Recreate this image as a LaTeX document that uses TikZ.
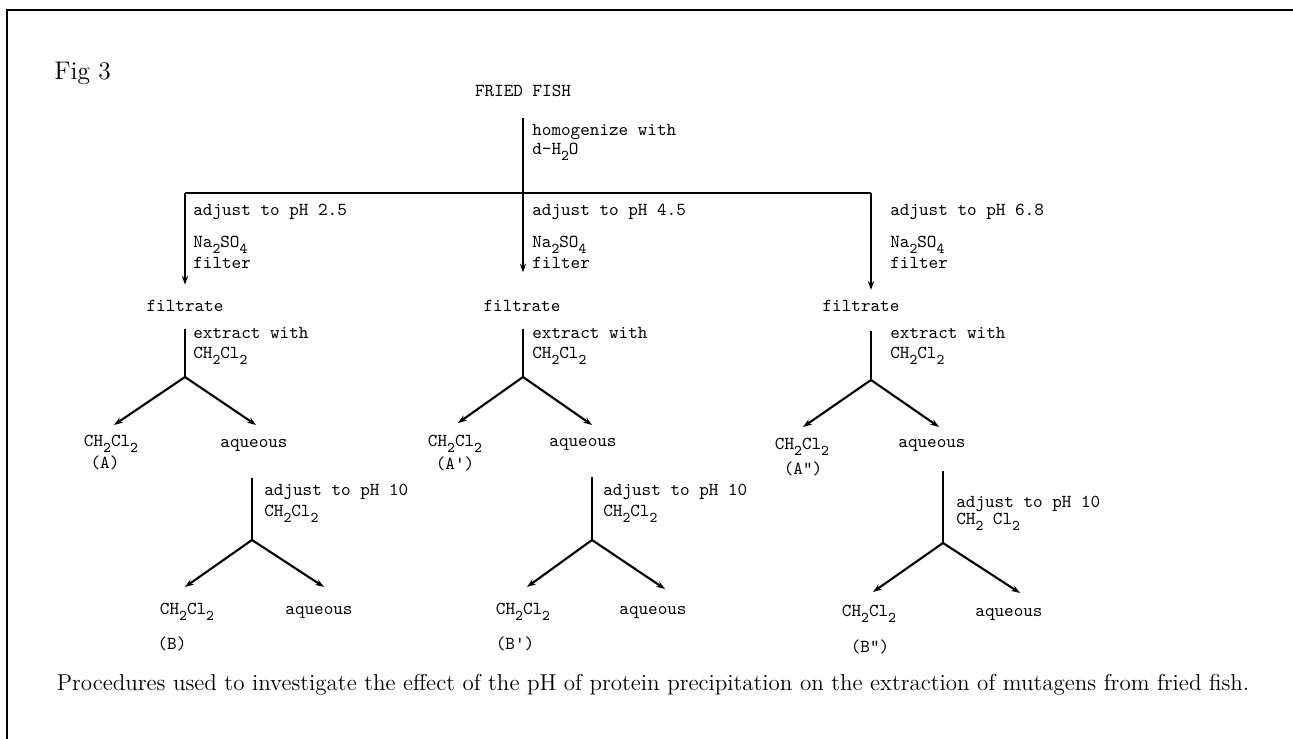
\documentclass[tikz,border=0pt]{standalone}
\usetikzlibrary{arrows.meta}
\newcommand{\dotfont}{\fontsize{10.4}{12.5}\selectfont\ttfamily}
\newcommand{\sbd}[1]{\raisebox{-3.5pt}{\fontsize{8.5}{9}\selectfont #1}}
\newcommand{\dcm}{CH\sbd{2}Cl\sbd{2}}
\tikzset{
  lbl/.style={font=\dotfont, inner sep=0pt, text height=7pt, text depth=2pt},
  note/.style={lbl, anchor=west},
  flowline/.style={line width=1.2pt},
  branch/.style={flowline, -{Stealth[length=5pt,width=3.5pt]}},
}
\begin{document}
\begin{tikzpicture}[scale=2]
    \useasboundingbox (0,0) rectangle (12.93,7.39);
    % frame
    \draw[line width=1.5pt] (0.07,0) -- (0.07,7.29) -- (12.93,7.29);
    \node[anchor=west, inner sep=0pt, font=\fontsize{14.5}{17}\selectfont] (fig) at (0.54,6.66) {Fig 3};
    % start
    \node[lbl] (fish) at (5.23,6.47) {FRIED FISH};
    \node[note] (hom) at (5.32,6.08) {homogenize with};
    \node[note] (water) at (5.32,5.89) {d-H\sbd{2}O};
    \coordinate (b1) at (1.85,5.46);
    \coordinate (b2) at (5.23,5.46);
    \coordinate (b3) at (8.71,5.46);
    \draw[flowline, shorten <=10pt] (fish.south) -- (b2);
    \draw[flowline] (b1) -- (b3);
    % pH 2.5
    \node[note] (adj1) at (1.93,5.28) {adjust to pH 2.5};
    \node[note] (salt1) at (1.93,4.96) {Na\sbd{2}SO\sbd{4}};
    \node[note] (filt1) at (1.93,4.75) {filter};
    \node[lbl] (f1) at (1.85,4.32) {filtrate};
    \draw[branch, shorten >=8pt] (b1) -- (b1 |- f1.north);
    \coordinate (j1) at (1.85,3.62);
    \draw[flowline, shorten <=8pt] (f1.south -| j1) -- (j1);
    \node[note] (ext1) at (1.93,4.05) {extract with};
    \node[note] (sol1) at (1.93,3.85) {\dcm};
    \coordinate (e1l) at (1.14,3.14);
    \coordinate (e1r) at (2.56,3.14);
    \draw[branch] (j1) -- (e1l);
    \draw[branch] (j1) -- (e1r);
    \node[lbl] (c1) at (1.11,2.97) {\dcm};
    \node[lbl] (A1) at (1.05,2.75) {(A)};
    \node[lbl] (a1) at (2.54,2.96) {aqueous};
    \coordinate (k1) at (2.52,1.99);
    \draw[flowline, shorten <=15pt] (a1.south -| k1) -- (k1);
    \node[note] (adj4) at (2.64,2.48) {adjust to pH 10};
    \node[note] (sol4) at (2.64,2.27) {\dcm};
    \coordinate (g1l) at (1.85,1.52);
    \coordinate (g1r) at (3.24,1.52);
    \draw[branch] (k1) -- (g1l);
    \draw[branch] (k1) -- (g1r);
    \node[lbl] (c4) at (1.87,1.29) {\dcm};
    \node[lbl] (a4) at (3.19,1.29) {aqueous};
    \node[lbl] (B1) at (1.72,0.94) {(B)};
    % pH 4.5
    \node[note] (adj2) at (5.32,5.28) {adjust to pH 4.5};
    \node[note] (salt2) at (5.32,4.96) {Na\sbd{2}SO\sbd{4}};
    \node[note] (filt2) at (5.32,4.75) {filter};
    \node[lbl] (f2) at (5.22,4.32) {filtrate};
    \draw[branch, shorten >=15pt] (b2) -- (b2 |- f2.north);
    \coordinate (j2) at (5.23,3.62);
    \draw[flowline, shorten <=8pt] (f2.south -| j2) -- (j2);
    \node[note] (ext2) at (5.32,4.05) {extract with};
    \node[note] (sol2) at (5.32,3.85) {\dcm};
    \coordinate (e2l) at (4.58,3.16);
    \coordinate (e2r) at (5.92,3.14);
    \draw[branch] (j2) -- (e2l);
    \draw[branch] (j2) -- (e2r);
    \node[lbl] (c2) at (4.55,2.97) {\dcm};
    \node[lbl] (A2) at (4.55,2.74) {(A\textquotesingle)};
    \node[lbl] (a2) at (5.83,2.97) {aqueous};
    \coordinate (k2) at (5.92,1.99);
    \draw[flowline, shorten <=15pt] (a2.south -| k2) -- (k2);
    \node[note] (adj5) at (6.03,2.48) {adjust to pH 10};
    \node[note] (sol5) at (6.03,2.27) {\dcm};
    \coordinate (g2l) at (5.27,1.52);
    \coordinate (g2r) at (6.65,1.50);
    \draw[branch] (k2) -- (g2l);
    \draw[branch] (k2) -- (g2r);
    \node[lbl] (c5) at (5.23,1.29) {\dcm};
    \node[lbl] (a5) at (6.53,1.29) {aqueous};
    \node[lbl] (B2) at (5.15,0.94) {(B\textquotesingle)};
    % pH 6.8
    \node[note] (adj3) at (8.90,5.28) {adjust to pH 6.8};
    \node[note] (salt3) at (8.90,4.96) {Na\sbd{2}SO\sbd{4}};
    \node[note] (filt3) at (8.90,4.75) {filter};
    \node[lbl] (f3) at (8.61,4.32) {filtrate};
    \draw[branch, shorten >=5pt] (b3) -- (b3 |- f3.north);
    \coordinate (j3) at (8.71,3.59);
    \draw[flowline, shorten <=9pt] (f3.south -| j3) -- (j3);
    \node[note] (ext3) at (8.90,4.05) {extract with};
    \node[note] (sol3) at (8.90,3.85) {\dcm};
    \coordinate (e3l) at (8.03,3.12);
    \coordinate (e3r) at (9.39,3.12);
    \draw[branch] (j3) -- (e3l);
    \draw[branch] (j3) -- (e3r);
    \node[lbl] (c3) at (8.02,2.94) {\dcm};
    \node[lbl] (A3) at (8.03,2.69) {(A\textquotedbl)};
    \node[lbl] (a3) at (9.32,2.96) {aqueous};
    \coordinate (k3) at (9.43,1.96);
    \draw[flowline, shorten <=11pt] (a3.south -| k3) -- (k3);
    \node[note] (adj6) at (9.56,2.36) {adjust to pH 10};
    \node[note] (sol6) at (9.56,2.19) {CH\sbd{2} Cl\sbd{2}};
    \coordinate (g3l) at (8.73,1.47);
    \coordinate (g3r) at (10.20,1.46);
    \draw[branch] (k3) -- (g3l);
    \draw[branch] (k3) -- (g3r);
    \node[lbl] (c6) at (8.69,1.27) {\dcm};
    \node[lbl] (a6) at (10.09,1.27) {aqueous};
    \node[lbl] (B3) at (8.70,0.91) {(B\textquotedbl)};
    % caption
    \node[font=\fontsize{13.1}{15.5}\selectfont] (cap) at (6.53,0.54) {Procedures used to investigate the effect of the pH of protein precipitation on the extraction of mutagens from fried fish.};
\end{tikzpicture}
\end{document}
